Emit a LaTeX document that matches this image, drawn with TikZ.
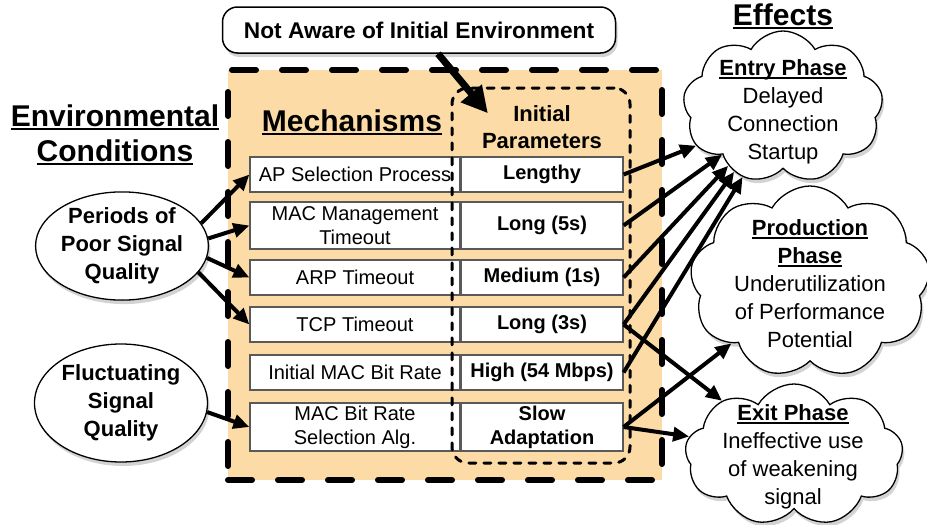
\documentclass[tikz,border=0pt]{standalone}
\usepackage{fontspec}
\setmainfont{Liberation Sans}
\usetikzlibrary{arrows.meta,shapes.geometric,shapes.symbols,shadows}
\definecolor{boxfill}{RGB}{252,219,166}
\newcommand{\uln}[1]{{\setbox0\hbox{#1}\rlap{\rule[-3.5pt]{\wd0}{2pt}}\box0}}

\begin{document}
\begin{tikzpicture}[x=1pt, y=-1pt,
    every node/.style={inner sep=0pt},
    shade/.style={drop shadow={shadow xshift=2pt, shadow yshift=-4pt, opacity=0.35}},
    cell/.style={draw=black!65, line width=1.2pt, fill=white, align=center,
      font=\fontsize{20}{24}\selectfont},
    valcell/.style={cell, font=\fontsize{20}{24}\selectfont\bfseries},
    blob/.style={ellipse, draw, line width=1.3pt, fill=white, align=center,
      font=\fontsize{22}{28}\selectfont\bfseries, shade},
    puff/.style={cloud, cloud puffs=9, cloud puff arc=120, cloud ignores aspect,
      draw, line width=1.3pt, fill=white, shade},
    cloudtext/.style={align=center, font=\fontsize{22}{28}\selectfont},
    heading/.style={align=center, font=\fontsize{30}{35}\selectfont\bfseries},
    arr/.style={line width=4pt, -{Triangle[length=16pt,width=14pt]}}]

  \useasboundingbox (0,0) rectangle (927,525);

  % orange frame round the mechanisms
  \node[draw, line width=6pt, line cap=round, dash pattern=on 24pt off 26pt,
    fill=boxfill, minimum width=434pt, minimum height=410pt] (frame) at (445,275) {};

  % table of mechanisms and initial values
  \foreach \i/\y/\h/\mech/\val in {
      1/174.5/35/{AP Selection Process}/{Lengthy},
      2/225.5/47/{MAC Management\\Timeout}/{Long (5s)},
      3/277.5/35/{ARP Timeout}/{Medium (1s)},
      4/324.5/35/{TCP Timeout}/{Long (3s)},
      5/372.5/35/{Initial MAC Bit Rate}/{High (54 Mbps)},
      6/427/48/{MAC Bit Rate\\Selection Alg.}/{Slow\\Adaptation}}{
    \node[cell, minimum width=210pt, minimum height=\h pt] (m\i) at (355,\y) {\mech};
    \node[valcell, minimum width=162pt, minimum height=\h pt] (p\i) at (542,\y) {\val};
  }

  \node[draw, line width=3pt, line cap=round, dash pattern=on 7pt off 8pt,
    rounded corners=16pt, minimum width=178pt, minimum height=375pt] (initbox) at (541,275.5) {};

  % headings
  \node[heading] (envhead) at (115,135) {\uln{Environmental}\\\uln{Conditions}};
  \node[heading] (mechhead) at (352,122) {\uln{Mechanisms}};
  \node[align=center, font=\fontsize{22}{27}\selectfont\bfseries] (params) at (542,127) {Initial\\Parameters};
  \node[heading] (effhead) at (783,16) {\uln{Effects}};

  \node[draw, line width=1.5pt, fill=white, rounded corners=15pt, minimum width=393pt,
    minimum height=46pt, font=\fontsize{22.7}{26}\selectfont\bfseries, shade] (aware) at (419,30)
    {Not Aware of Initial Environment};

  % conditions
  \node[blob, minimum width=172pt, minimum height=108pt] (poor) at (122,246) {Periods of\\Poor Signal\\Quality};
  \node[blob, minimum width=173pt, minimum height=118pt] (fluct) at (121,403) {Fluctuating\\Signal\\Quality};

  % effects
  \node[puff, minimum width=200pt, minimum height=152pt] (entry) at (783,107) {};
  \node[cloudtext] (entrytxt) at (783,112) {\uln{\bfseries Entry Phase}\\Delayed\\Connection\\Startup};
  \node[puff, minimum width=240pt, minimum height=192pt] (prod) at (810,282) {};
  \node[cloudtext] (prodtxt) at (810,284) {\uln{\bfseries Production}\\\uln{\bfseries Phase}\\Underutilization\\of Performance\\Potential};
  \node[puff, minimum width=218pt, minimum height=142pt] (exit) at (794,455) {};
  \node[cloudtext] (exittxt) at (793,457) {\uln{\bfseries Exit Phase}\\Ineffective use\\of weakening\\signal};

  % arrows
  \draw[arr] (poor.16) -- (m1.west);
  \draw[arr] (poor.5) -- (m2.west);
  \draw[arr] (poor.-8) -- (m3.west);
  \draw[arr] (poor.-19) -- (m4.west);
  \draw[arr] (fluct.-6) -- (m6.west);
  \draw[arr] (p1.east) -- (entry.204);
  \draw[arr] (p2.east) -- (entry.218);
  \draw[arr] (p3.east) -- (entry.227);
  \draw[arr] (p4.east) -- (entry.233);
  \draw[arr] (p5.east) -- (entry.240);
  \draw[arr] (p4.east) -- (exit.143);
  \draw[arr] (p6.east) -- (prod.218);
  \draw[arr] (p6.east) -- (exit.170);
  \draw[line width=7pt, -{Triangle[length=26pt,width=26pt]}] ([xshift=19pt]aware.south)
    -- ([shift={(6pt,-8pt)}]params.north west);
\end{tikzpicture}
\end{document}
